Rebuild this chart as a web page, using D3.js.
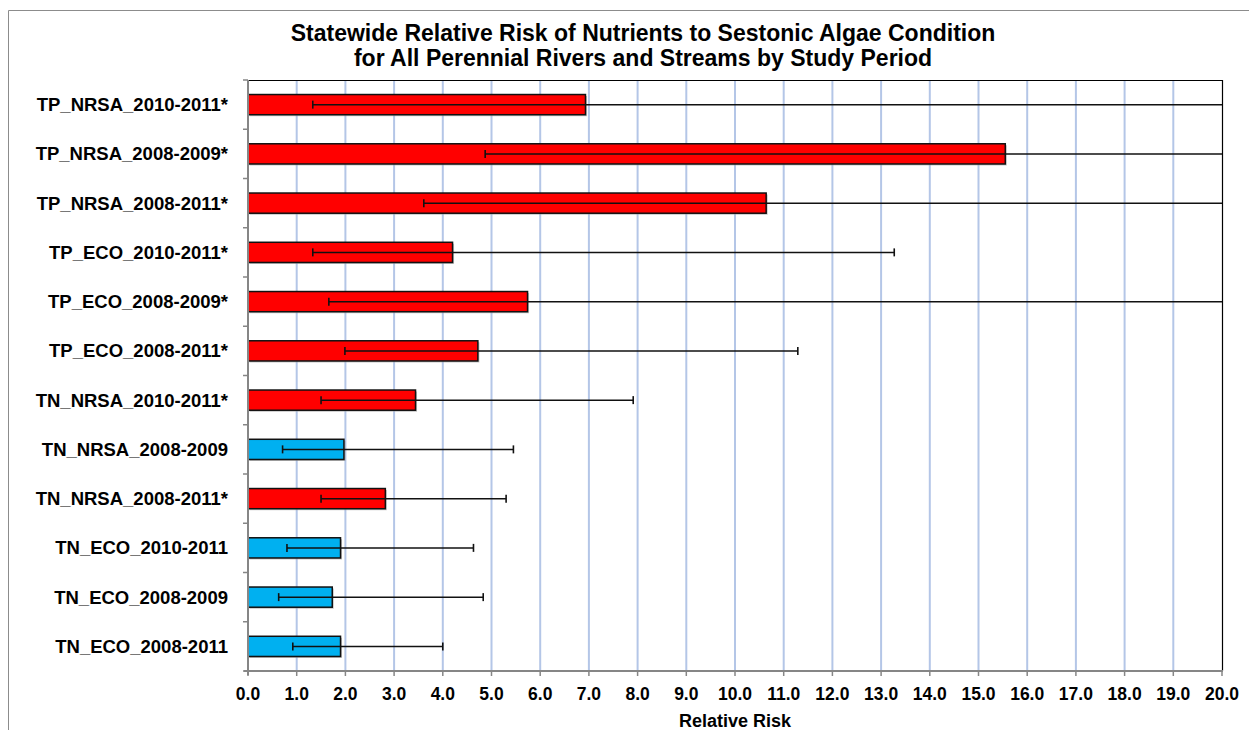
<!DOCTYPE html>
<html>
<head>
<meta charset="utf-8">
<script src="https://cdn.jsdelivr.net/npm/d3@7"></script>
<style>
  html, body { margin: 0; padding: 0; background: #fff; }
  svg { display: block; }
  text { font-family: "Liberation Sans", Arial, sans-serif; font-weight: bold; fill: #000; }
</style>
</head>
<body>
<svg id="chart" width="1249" height="730"></svg>
<script>
// ---- data ----
const categories = [
  "TP_NRSA_2010-2011*", "TP_NRSA_2008-2009*", "TP_NRSA_2008-2011*",
  "TP_ECO_2010-2011*", "TP_ECO_2008-2009*", "TP_ECO_2008-2011*",
  "TN_NRSA_2010-2011*", "TN_NRSA_2008-2009", "TN_NRSA_2008-2011*",
  "TN_ECO_2010-2011", "TN_ECO_2008-2009", "TN_ECO_2008-2011"
];
const relativeRisk = [6.93, 15.55, 10.64, 4.20, 5.74, 4.72, 3.44, 1.97, 2.82, 1.90, 1.73, 1.90];
const lowerCI      = [1.33, 4.87, 3.61, 1.33, 1.66, 1.99, 1.50, 0.71, 1.50, 0.80, 0.63, 0.92];
const upperCI      = [24.0, 50.0, 31.0, 13.27, 21.5, 11.29, 7.91, 5.45, 5.30, 4.63, 4.83, 4.00];
const significant  = [true, true, true, true, true, true, true, false, true, false, false, false];
const xTicks = d3.range(0, 21, 1);
const titleLines = [
  "Statewide Relative Risk of Nutrients to Sestonic Algae Condition",
  "for All Perennial Rivers and Streams by Study Period"
];
const xAxisTitle = "Relative Risk";

// ---- layout ----
const svg = d3.select("#chart");
const L = 248, R = 1222, T = 80, B = 671;
const colors = { sig: "#ff0000", non: "#00b0f0" };

const x = d3.scaleLinear().domain([0, 20]).range([L, R]);
const y = d3.scaleBand().domain(categories).range([T, B]).paddingInner(0.59).paddingOuter(0.295);

// outer chart border
svg.append("path")
  .attr("d", `M8.5,730 L8.5,10.5 L1249,10.5`)
  .attr("fill", "none").attr("stroke", "#8c8c8c").attr("stroke-width", 1);

// clip
svg.append("clipPath").attr("id", "plotclip")
  .append("rect").attr("x", L).attr("y", T).attr("width", R - L).attr("height", B - T);

// gridlines
svg.append("g").selectAll("line")
  .data(xTicks.filter(d => d > 0 && d < 20))
  .join("line")
  .attr("x1", d => x(d)).attr("x2", d => x(d))
  .attr("y1", T).attr("y2", B)
  .attr("stroke", "#b4c6e7").attr("stroke-width", 2);

// plot top & right border
svg.append("path")
  .attr("d", `M${L},${T + 0.5} L${R + 0.5},${T + 0.5} L${R + 0.5},${B}`)
  .attr("fill", "none").attr("stroke", "#000").attr("stroke-width", 1.2);

// bars
const rows = categories.map((c, i) => ({
  c, v: relativeRisk[i], lo: lowerCI[i], hi: upperCI[i], sig: significant[i]
}));
const barG = svg.append("g");
barG.selectAll("rect.shadow").data(rows).join("rect")
  .attr("class", "shadow")
  .attr("x", x(0) + 1.5).attr("y", d => y(d.c) + 1.5)
  .attr("width", d => x(d.v) - x(0)).attr("height", y.bandwidth())
  .attr("fill", "#9a9a9a").attr("opacity", 0.6);
barG.selectAll("rect.bar").data(rows).join("rect")
  .attr("class", "bar")
  .attr("x", x(0)).attr("y", d => y(d.c))
  .attr("width", d => x(d.v) - x(0)).attr("height", y.bandwidth())
  .attr("fill", d => d.sig ? colors.sig : colors.non)
  .attr("stroke", "#111").attr("stroke-width", 1.5);

// error bars
const errG = svg.append("g").attr("clip-path", "url(#plotclip)");
const cy = d => y(d.c) + y.bandwidth() / 2;
errG.selectAll("line.err").data(rows).join("line")
  .attr("x1", d => x(d.lo)).attr("x2", d => x(Math.min(d.hi, 20.5)))
  .attr("y1", cy).attr("y2", cy)
  .attr("stroke", "#111").attr("stroke-width", 1.5);
errG.selectAll("line.capLo").data(rows).join("line")
  .attr("x1", d => x(d.lo)).attr("x2", d => x(d.lo))
  .attr("y1", d => cy(d) - 4).attr("y2", d => cy(d) + 4)
  .attr("stroke", "#111").attr("stroke-width", 1.6);
errG.selectAll("line.capHi").data(rows.filter(d => d.hi <= 20)).join("line")
  .attr("x1", d => x(d.hi)).attr("x2", d => x(d.hi))
  .attr("y1", d => cy(d) - 4).attr("y2", d => cy(d) + 4)
  .attr("stroke", "#111").attr("stroke-width", 1.6);

// y axis
const yAxisG = svg.append("g");
yAxisG.append("line").attr("x1", L).attr("x2", L).attr("y1", T).attr("y2", B + 4)
  .attr("stroke", "#868686").attr("stroke-width", 2);
const bounds = d3.range(0, categories.length + 1).map(k => T + k * y.step());
yAxisG.selectAll("line.tk").data(bounds).join("line")
  .attr("x1", L - 5).attr("x2", L).attr("y1", d => d).attr("y2", d => d)
  .attr("stroke", "#868686").attr("stroke-width", 1.5);
yAxisG.selectAll("text").data(categories).join("text")
  .attr("x", 228).attr("y", d => y(d) + y.bandwidth() / 2 + 6.5)
  .attr("text-anchor", "end").attr("font-size", 18.5)
  .text(d => d);

// x axis
const xAxisG = svg.append("g");
xAxisG.append("line").attr("x1", L - 4).attr("x2", R + 1).attr("y1", B).attr("y2", B)
  .attr("stroke", "#868686").attr("stroke-width", 2);
xAxisG.selectAll("line.tk").data(xTicks).join("line")
  .attr("x1", d => x(d)).attr("x2", d => x(d)).attr("y1", B).attr("y2", B + 5)
  .attr("stroke", "#868686").attr("stroke-width", 1.5);
xAxisG.selectAll("text").data(xTicks).join("text")
  .attr("x", d => x(d)).attr("y", 700)
  .attr("text-anchor", "middle").attr("font-size", 17.5)
  .text(d3.format(".1f"));

svg.append("text").attr("x", 735).attr("y", 727)
  .attr("text-anchor", "middle").attr("font-size", 18)
  .text(xAxisTitle);

// title
svg.append("g").selectAll("text").data(titleLines).join("text")
  .attr("x", 643).attr("y", (d, i) => 41 + i * 25)
  .attr("text-anchor", "middle").attr("font-size", 23)
  .text(d => d);
</script>
</body>
</html>
